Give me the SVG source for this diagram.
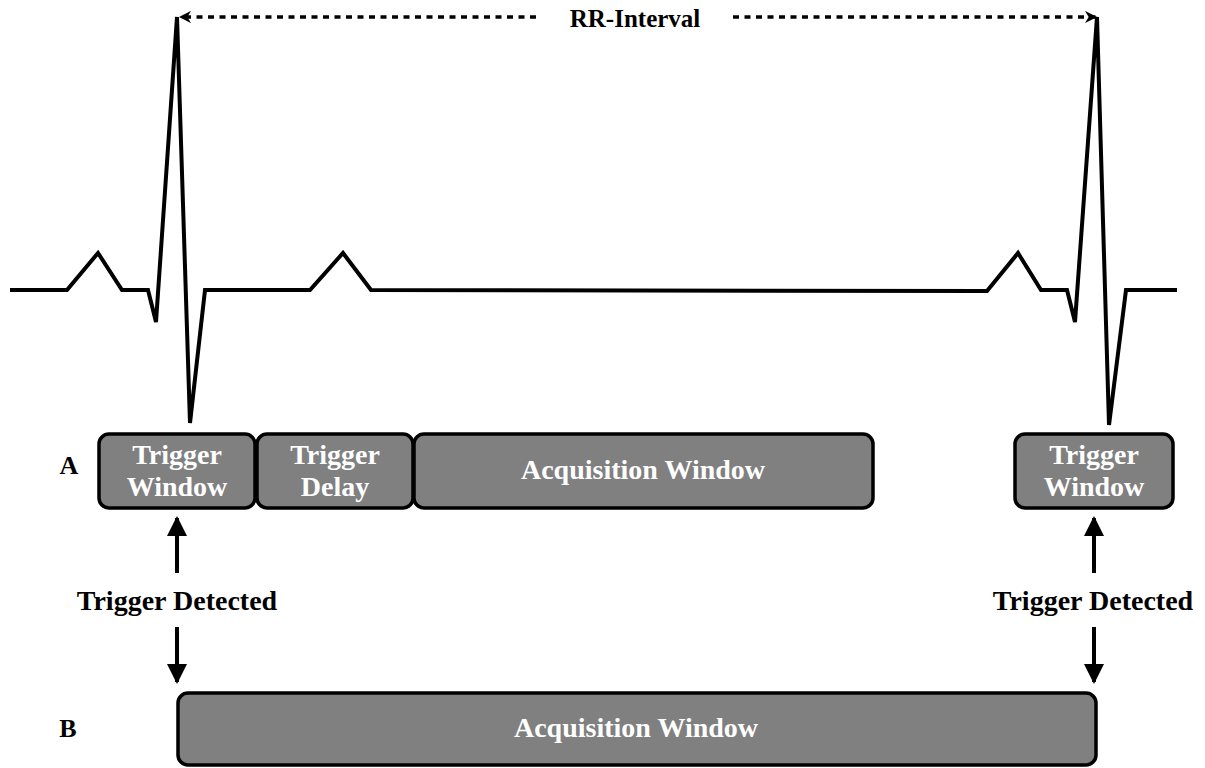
<svg xmlns="http://www.w3.org/2000/svg" width="1205" height="768" viewBox="0 0 1205 768">
<defs>
<style>
.box{fill:#808080;stroke:#000;stroke-width:3.5}
.wt{font-family:"Liberation Serif",serif;font-weight:bold;font-size:28px;fill:#fff;text-anchor:middle}
.bt{font-family:"Liberation Serif",serif;font-weight:bold;font-size:28px;fill:#000;text-anchor:middle}
.ecg{fill:none;stroke:#000;stroke-width:4;stroke-linejoin:miter}
.arr{stroke:#000;stroke-width:4;fill:none}
.dash{stroke:#000;stroke-width:3.5;stroke-dasharray:6 5.5;fill:none}
</style>
<marker id="ah" viewBox="0 0 10 10" refX="9" refY="5" markerWidth="5" markerHeight="5" markerUnits="strokeWidth" orient="auto">
<path d="M0,0 L10,5 L0,10 z" fill="#000"/>
</marker>
<marker id="sh" viewBox="0 0 10 10" refX="9" refY="5" markerWidth="3.5" markerHeight="3.5" markerUnits="strokeWidth" orient="auto">
<path d="M0,0 L10,5 L0,10 L3,5 z" fill="#000"/>
</marker>
</defs>
<g id="ecg">
<polyline class="ecg" points="10,290 67,290 98,253 122,290 148,290 156,322 177,17 190,423 205,290 310,290 343,253 371,290 987,291 1018,253 1041,290 1067,290 1075,322 1097,17 1109,425 1126,290 1177,290"/>
</g>
<g id="connectors">
<line class="dash" x1="536" y1="17" x2="180" y2="17" marker-end="url(#sh)"/>
<line class="dash" x1="733" y1="17" x2="1096" y2="17" marker-end="url(#sh)"/>
<line class="arr" x1="177" y1="573" x2="177" y2="518" marker-end="url(#ah)"/>
<line class="arr" x1="177" y1="627" x2="177" y2="682" marker-end="url(#ah)"/>
<line class="arr" x1="1094" y1="573" x2="1094" y2="518" marker-end="url(#ah)"/>
<line class="arr" x1="1094" y1="627" x2="1094" y2="682" marker-end="url(#ah)"/>
</g>
<g id="rr-label"><text class="bt" x="635" y="27" style="font-size:25px">RR-Interval</text></g>
<g id="label-a"><text class="bt" x="69" y="474" style="font-size:26px">A</text></g>
<g id="label-b"><text class="bt" x="68" y="737" style="font-size:26px">B</text></g>
<g id="trigger-window-1">
<rect class="box" x="99" y="434" width="156" height="74" rx="10"/>
<text class="wt" x="177" y="464">Trigger</text>
<text class="wt" x="177" y="496">Window</text>
</g>
<g id="trigger-delay">
<rect class="box" x="257" y="434" width="156" height="74" rx="10"/>
<text class="wt" x="335" y="464">Trigger</text>
<text class="wt" x="335" y="496">Delay</text>
</g>
<g id="acq-window-a">
<rect class="box" x="414" y="434" width="459" height="74" rx="10"/>
<text class="wt" x="643" y="479">Acquisition Window</text>
</g>
<g id="trigger-window-2">
<rect class="box" x="1015" y="434" width="158" height="74" rx="10"/>
<text class="wt" x="1094" y="464">Trigger</text>
<text class="wt" x="1094" y="496">Window</text>
</g>
<g id="trigger-detected-1"><text class="bt" x="177" y="610">Trigger Detected</text></g>
<g id="trigger-detected-2"><text class="bt" x="1093" y="610">Trigger Detected</text></g>
<g id="acq-window-b">
<rect class="box" x="178" y="693" width="918" height="72" rx="10"/>
<text class="wt" x="636" y="737">Acquisition Window</text>
</g>
</svg>
